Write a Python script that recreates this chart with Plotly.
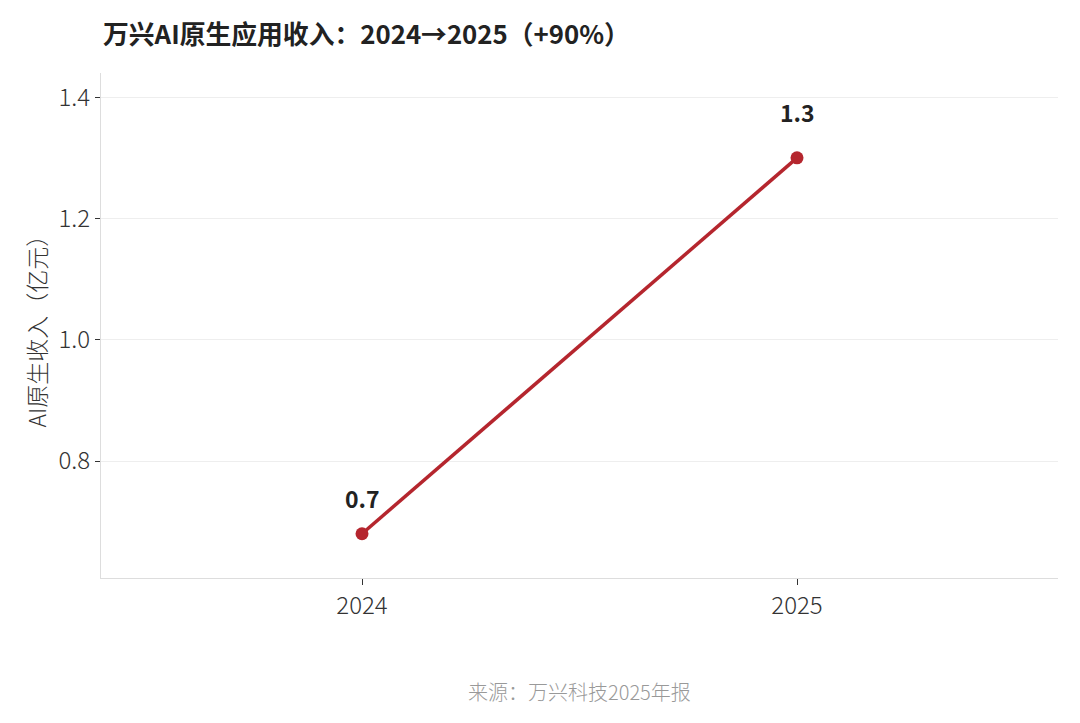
import plotly.graph_objects as go

# Data
years = ["2024", "2025"]
revenue = [0.68, 1.30]
labels = ["0.7", "1.3"]

FONT = "Noto Sans CJK SC, Noto Sans, sans-serif"
RED = "#B5262E"

fig = go.Figure()

fig.add_trace(go.Scatter(x=years, y=revenue, mode="lines+markers",
                         line=dict(color=RED, width=3.5),
                         marker=dict(color=RED, size=13),
                         hoverinfo="x+y", showlegend=False))

# value labels above the points (x given as category index)
label_shift = [36, 46]
for i, (v, lab) in enumerate(zip(revenue, labels)):
    fig.add_annotation(x=i, y=v, text="<b>%s</b>" % lab, showarrow=False,
                       yshift=label_shift[i],
                       font=dict(family=FONT, size=23, color="#222"))

# y axis title as a rotated annotation
fig.add_annotation(text="AI原生收入（亿元）", xref="paper", yref="paper",
                   x=-0.068, y=0.5, xanchor="center", yanchor="middle",
                   textangle=-90, showarrow=False,
                   font=dict(family=FONT, size=23, color="#333", weight=300))

fig.add_annotation(text="来源：万兴科技2025年报", xref="paper", yref="paper",
                   x=0.5, y=-0.224, showarrow=False, yanchor="middle",
                   font=dict(family=FONT, size=20, color="#999", weight=300))

fig.update_layout(
    width=1064, height=707,
    title=dict(text="<b>万兴AI原生应用收入：2024→2025（+90%）</b>",
               x=0.0893, xanchor="left", y=0.962, yanchor="middle",
               font=dict(family=FONT, size=25.8, color="#222")),
    font=dict(family=FONT, color="#333"),
    plot_bgcolor="white", paper_bgcolor="white",
    margin=dict(l=93, r=14, t=65, b=137),
    xaxis=dict(type="category", range=[-0.6, 1.6], showgrid=False,
               showline=True, linecolor="#ddd", linewidth=1.2,
               ticks="outside", ticklen=6, tickcolor="#333",
               tickfont=dict(size=24, color="#333", weight=300)),
    yaxis=dict(range=[0.607, 1.44], tickvals=[0.8, 1.0, 1.2, 1.4],
               ticktext=["0.8", "1.0", "1.2", "1.4"],
               showgrid=True, gridcolor="#eee", gridwidth=1, zeroline=False,
               showline=True, linecolor="#ddd", linewidth=1.2,
               ticks="outside", ticklen=5, tickcolor="#333",
               tickfont=dict(size=24, color="#333", weight=300)),
)

fig.write_html("out.html")
